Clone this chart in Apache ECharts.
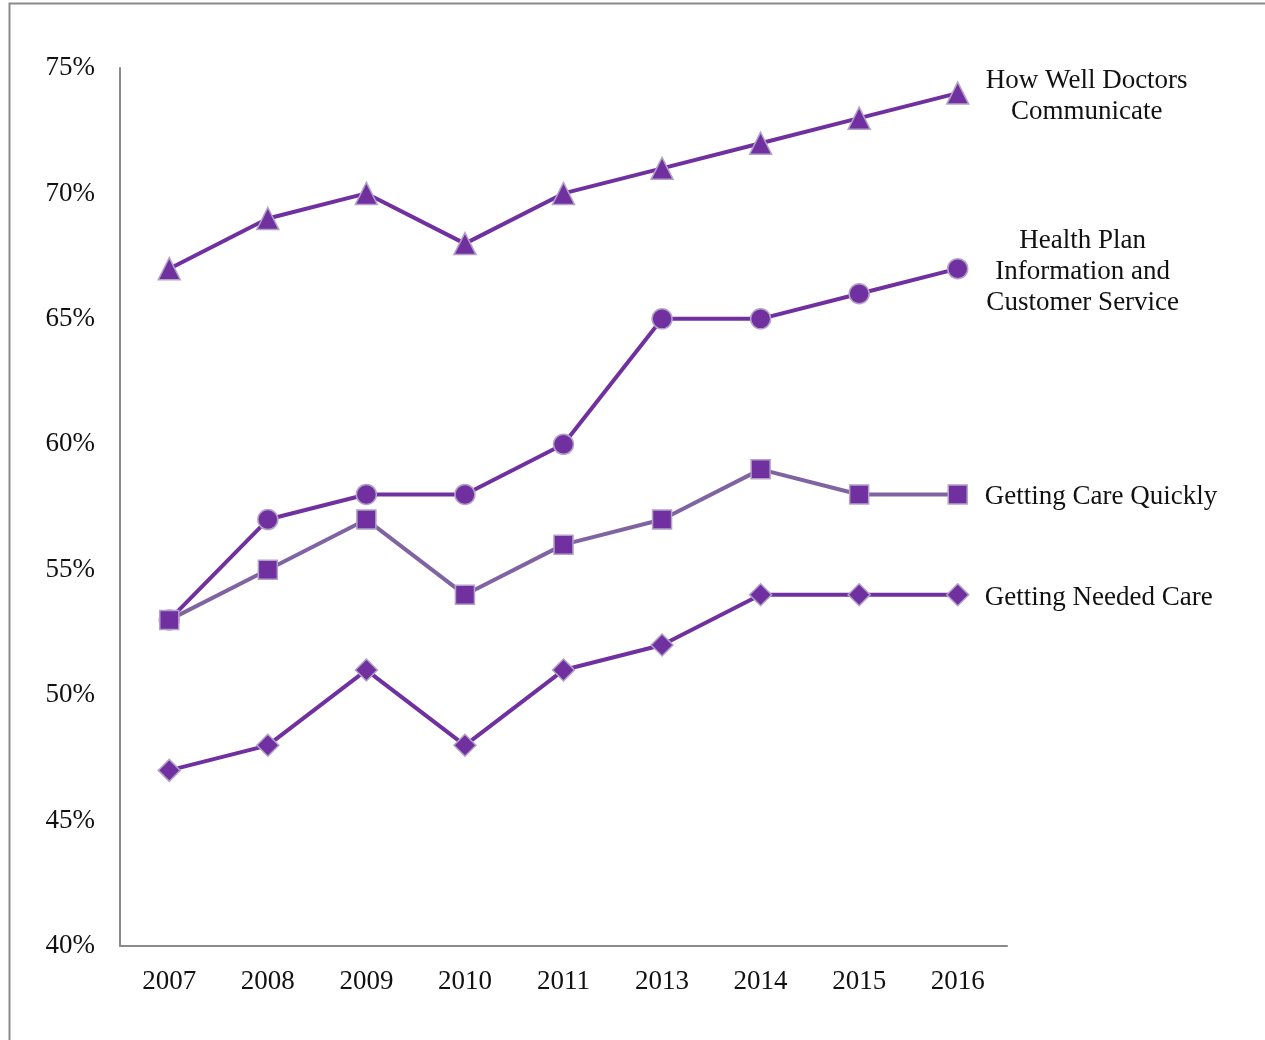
<!DOCTYPE html>
<html><head><meta charset="utf-8">
<script src="https://cdn.jsdelivr.net/npm/echarts@6/dist/echarts.min.js"></script>
<style>html,body{margin:0;padding:0;background:#fff}#c{width:1265px;height:1040px}</style>
</head><body><div id="c"></div>
<script>
const years = ['2007','2008','2009','2010','2011','2013','2014','2015','2016'];
const doctorsCommunicate = [67,69,70,68,70,71,72,73,74];
const healthPlanInfo = [53,57,58,58,60,65,65,66,67];
const careQuickly = [53,55,57,54,56,57,59,58,58];
const neededCare = [47,48,51,48,51,52,54,54,54];
const seriesNames = ['How Well Doctors\nCommunicate','Health Plan\nInformation and\nCustomer Service','Getting Care Quickly','Getting Needed Care'];

const FONT = '"Liberation Serif", serif';
const chart = echarts.init(document.getElementById('c'));

function withEndLabel(values, name, labelCfg){
  return values.map((v,i)=> i===values.length-1 ? {value:v, label:Object.assign({show:true, formatter:name, position:'inside', fontFamily:FONT, fontSize:27, color:'#111', lineHeight:31}, labelCfg)} : v);
}
function mk(name, values, symbol, size, lineColor, labelCfg){
  return {
    name:name, type:'line', data:withEndLabel(values, name, labelCfg),
    symbol:symbol, symbolSize:size, showAllSymbol:true,
    lineStyle:{color:lineColor, width:4},
    itemStyle:{color:'#7030A0', borderColor:'#B3A2C7', borderWidth:1.5},
    label:{show:false}, emphasis:{disabled:true}, z:2
  };
}
chart.setOption({
  animation:false,
  backgroundColor:'#fff',
  graphic:[{type:'rect', left:7, top:1, shape:{width:1300, height:1100}, style:{fill:'none', stroke:'#8a8a8a', lineWidth:2}, z:-1}],
  grid:{left:120, right:258, top:68, bottom:94},
  xAxis:{type:'category', data:years, boundaryGap:true,
    axisLine:{lineStyle:{color:'#8a8a8a', width:2}}, axisTick:{show:false},
    axisLabel:{fontFamily:FONT, fontSize:27, color:'#111', margin:22}},
  yAxis:{type:'value', min:40, max:75, interval:5,
    axisLine:{show:true, lineStyle:{color:'#8a8a8a', width:2}}, axisTick:{show:false}, splitLine:{show:false},
    axisLabel:{formatter:'{value}%', fontFamily:FONT, fontSize:27, color:'#111', margin:25, lineHeight:27, padding:[6,0,0,0]}},
  series:[
    mk(seriesNames[0], doctorsCommunicate, 'triangle', 22, '#7030A0', {align:'center', offset:[129,3]}),
    mk(seriesNames[1], healthPlanInfo, 'circle', 20, '#7030A0', {align:'center', offset:[125,3]}),
    mk(seriesNames[2], careQuickly, 'rect', 19, '#8064A2', {align:'left', offset:[27,2]}),
    mk(seriesNames[3], neededCare, 'diamond', 22, '#7030A0', {align:'left', offset:[27,3]})
  ]
});
</script></body></html>
